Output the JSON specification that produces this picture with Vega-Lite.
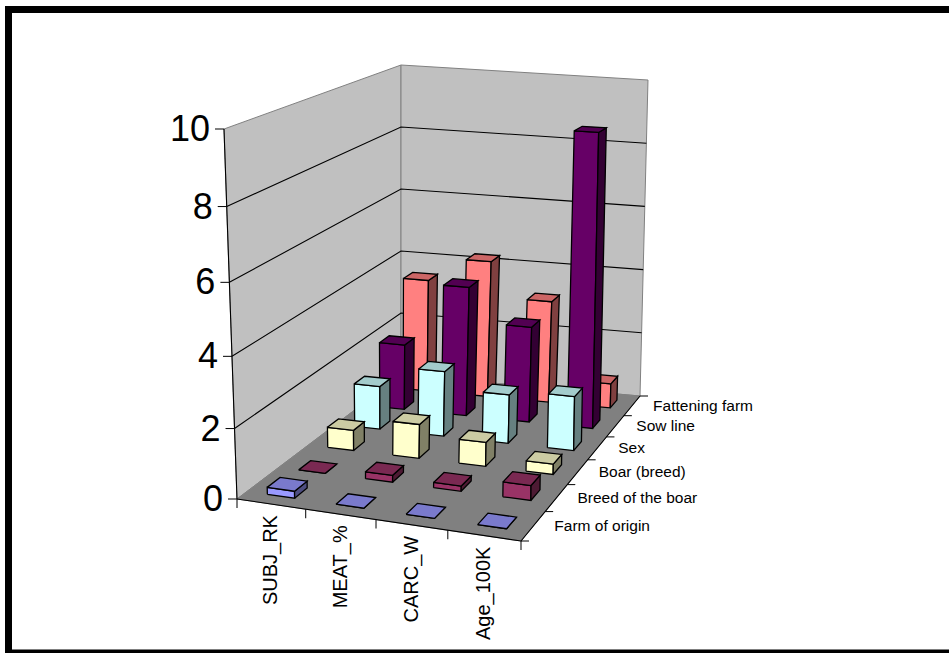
{
"$schema":"https://vega.github.io/schema/vega-lite/v6.json",
"width":940.5,"height":643.5,
"autosize":{"type":"none"},
"padding":{"left":8.5,"top":9.5,"right":0,"bottom":0},
"background":"white",
"config":{"view":{"stroke":null},"axis":{"translate":0},"text":{"font":"Liberation Sans"}},
"resolve":{"axis":{"x":"independent","y":"independent"},"scale":{"fill":"independent"}},
"datasets":{
"bars":[
{"category":"SUBJ_RK","series":"Fattening farm","value":3.5},{"category":"MEAT_%","series":"Fattening farm","value":4.25},{"category":"CARC_W","series":"Fattening farm","value":3.15},{"category":"Age_100K","series":"Fattening farm","value":0.75},
{"category":"SUBJ_RK","series":"Sow line","value":2.0},{"category":"MEAT_%","series":"Sow line","value":3.95},{"category":"CARC_W","series":"Sow line","value":2.9},{"category":"Age_100K","series":"Sow line","value":8.9},
{"category":"SUBJ_RK","series":"Sex","value":1.3},{"category":"MEAT_%","series":"Sex","value":1.95},{"category":"CARC_W","series":"Sex","value":1.45},{"category":"Age_100K","series":"Sex","value":1.6},
{"category":"SUBJ_RK","series":"Boar (breed)","value":0.6},{"category":"MEAT_%","series":"Boar (breed)","value":1.0},{"category":"CARC_W","series":"Boar (breed)","value":0.7},{"category":"Age_100K","series":"Boar (breed)","value":0.3},
{"category":"SUBJ_RK","series":"Breed of the boar","value":0},{"category":"MEAT_%","series":"Breed of the boar","value":0.2},{"category":"CARC_W","series":"Breed of the boar","value":0.15},{"category":"Age_100K","series":"Breed of the boar","value":0.42},
{"category":"SUBJ_RK","series":"Farm of origin","value":0.2},{"category":"MEAT_%","series":"Farm of origin","value":0},{"category":"CARC_W","series":"Farm of origin","value":0},{"category":"Age_100K","series":"Farm of origin","value":0}
],
"panels":[
{"panel":"left wall","k":0,"u":0,"v":0,"w":0},{"panel":"left wall","k":1,"u":0,"v":1,"w":0},{"panel":"left wall","k":2,"u":0,"v":1,"w":1},{"panel":"left wall","k":3,"u":0,"v":0,"w":1},{"panel":"left wall","k":4,"u":0,"v":0,"w":0},
{"panel":"back wall","k":0,"u":0,"v":1,"w":0},{"panel":"back wall","k":1,"u":1,"v":1,"w":0},{"panel":"back wall","k":2,"u":1,"v":1,"w":1},{"panel":"back wall","k":3,"u":0,"v":1,"w":1},{"panel":"back wall","k":4,"u":0,"v":1,"w":0},
{"panel":"floor","k":0,"u":0,"v":0,"w":0},{"panel":"floor","k":1,"u":1,"v":0,"w":0},{"panel":"floor","k":2,"u":1,"v":1,"w":0},{"panel":"floor","k":3,"u":0,"v":1,"w":0},{"panel":"floor","k":4,"u":0,"v":0,"w":0}
],
"rules":[
{"line":"g2","k":0,"u":0,"v":0,"w":0.2},{"line":"g2","k":1,"u":0,"v":1,"w":0.2},{"line":"g2","k":2,"u":1,"v":1,"w":0.2},
{"line":"g4","k":0,"u":0,"v":0,"w":0.4},{"line":"g4","k":1,"u":0,"v":1,"w":0.4},{"line":"g4","k":2,"u":1,"v":1,"w":0.4},
{"line":"g6","k":0,"u":0,"v":0,"w":0.6},{"line":"g6","k":1,"u":0,"v":1,"w":0.6},{"line":"g6","k":2,"u":1,"v":1,"w":0.6},
{"line":"g8","k":0,"u":0,"v":0,"w":0.8},{"line":"g8","k":1,"u":0,"v":1,"w":0.8},{"line":"g8","k":2,"u":1,"v":1,"w":0.8},
{"line":"value axis","k":0,"u":0,"v":0,"w":0},{"line":"value axis","k":1,"u":0,"v":0,"w":1},
{"line":"floor edge","k":0,"u":0,"v":0,"w":0},{"line":"floor edge","k":1,"u":1,"v":0,"w":0},{"line":"floor edge","k":2,"u":1,"v":1,"w":0}
],
"levels":[{"z":0},{"z":2},{"z":4},{"z":6},{"z":8},{"z":10}],
"categoryTicks":[{"t":0},{"t":1},{"t":2},{"t":3},{"t":4}],
"seriesTicks":[{"t":0},{"t":1},{"t":2},{"t":3},{"t":4},{"t":5},{"t":6}],
"categories":[{"category":"SUBJ_RK","i":0},{"category":"MEAT_%","i":1},{"category":"CARC_W","i":2},{"category":"Age_100K","i":3}],
"seriesNames":[{"series":"Farm of origin","j":0},{"series":"Breed of the boar","j":1},{"series":"Boar (breed)","j":2},{"series":"Sex","j":3},{"series":"Sow line","j":4},{"series":"Fattening farm","j":5}]
},
"layer":[
{"data":{"name":"panels"},
"transform":[
{"calculate":"datum.u+0.074*datum.u*(1-datum.u)","as":"uw"},{"calculate":"datum.w-0.06*(1-datum.v)*datum.w*(1-datum.w)","as":"wz"},
{"calculate":"(226.87*datum.uw+261.4*datum.v+237)/(1-0.10965*datum.uw+0.24288*datum.v)","as":"fx"},{"calculate":"(-17.32*datum.uw-32.92*datum.v+499)/(1-0.10965*datum.uw+0.24288*datum.v)","as":"fy"},
{"calculate":"(308.68*datum.uw+259.71*datum.v+224)/(1+0.01657*datum.uw+0.20626*datum.v)","as":"cx"},{"calculate":"(19.42*datum.uw-50.59*datum.v+129)/(1+0.01657*datum.uw+0.20626*datum.v)","as":"cy"},
{"calculate":"datum.fx+(datum.cx-datum.fx)*datum.wz","as":"px"},{"calculate":"datum.fy+(datum.cy-datum.fy)*datum.wz","as":"py"}],
"mark":{"type":"line","stroke":"#808080","strokeWidth":1,"interpolate":"linear"},
"encoding":{
"x":{"field":"px","type":"quantitative","scale":{"domain":[8.5,949],"zero":false,"nice":false},"axis":{"orient":"top","domain":true,"domainColor":"black","domainWidth":7,"domainCap":"square","ticks":false,"labels":false,"grid":false,"title":null}},
"y":{"field":"py","type":"quantitative","scale":{"domain":[9.5,653],"zero":false,"nice":false,"reverse":true},"axis":{"orient":"left","domain":true,"domainColor":"black","domainWidth":7,"domainCap":"square","ticks":false,"labels":false,"grid":false,"title":null}},
"order":{"field":"k"},"detail":{"field":"panel"},
"fill":{"field":"panel","type":"nominal","legend":null,"scale":{"domain":["left wall","back wall","floor"],"range":["#C0C0C0","#C0C0C0","#808080"]}}}},
{"data":{"name":"rules"},
"transform":[
{"calculate":"datum.u+0.074*datum.u*(1-datum.u)","as":"uw"},{"calculate":"datum.w-0.06*(1-datum.v)*datum.w*(1-datum.w)","as":"wz"},
{"calculate":"(226.87*datum.uw+261.4*datum.v+237)/(1-0.10965*datum.uw+0.24288*datum.v)","as":"fx"},{"calculate":"(-17.32*datum.uw-32.92*datum.v+499)/(1-0.10965*datum.uw+0.24288*datum.v)","as":"fy"},
{"calculate":"(308.68*datum.uw+259.71*datum.v+224)/(1+0.01657*datum.uw+0.20626*datum.v)","as":"cx"},{"calculate":"(19.42*datum.uw-50.59*datum.v+129)/(1+0.01657*datum.uw+0.20626*datum.v)","as":"cy"},
{"calculate":"datum.fx+(datum.cx-datum.fx)*datum.wz","as":"px"},{"calculate":"datum.fy+(datum.cy-datum.fy)*datum.wz","as":"py"}],
"mark":{"type":"line","color":"#000000","strokeWidth":1.1},
"encoding":{
"x":{"field":"px","type":"quantitative","axis":{"orient":"bottom","domain":true,"domainColor":"black","domainWidth":7,"domainCap":"square","ticks":false,"labels":false,"grid":false,"title":null}},
"y":{"field":"py","type":"quantitative","axis":null},
"order":{"field":"k"},"detail":{"field":"line"}}},
{"data":{"name":"bars"},
"transform":[
{"calculate":"indexof(['SUBJ_RK','MEAT_%','CARC_W','Age_100K'],datum.category)","as":"i"},
{"calculate":"indexof(['Farm of origin','Breed of the boar','Boar (breed)','Sex','Sow line','Fattening farm'],datum.series)","as":"j"},
{"calculate":"[{f:'front',k:0,a:0,b:0,c:0},{f:'front',k:1,a:1,b:0,c:0},{f:'front',k:2,a:1,b:0,c:1},{f:'front',k:3,a:0,b:0,c:1},{f:'front',k:4,a:0,b:0,c:0},{f:'side',k:0,a:1,b:0,c:0},{f:'side',k:1,a:1,b:1,c:0},{f:'side',k:2,a:1,b:1,c:1},{f:'side',k:3,a:1,b:0,c:1},{f:'side',k:4,a:1,b:0,c:0},{f:'top',k:0,a:0,b:0,c:1},{f:'top',k:1,a:1,b:0,c:1},{f:'top',k:2,a:1,b:1,c:1},{f:'top',k:3,a:0,b:1,c:1},{f:'top',k:4,a:0,b:0,c:1}]","as":"corner"},
{"flatten":["corner"]},
{"calculate":"datum.corner.k","as":"k"},
{"calculate":"datum.series+'|'+datum.corner.f","as":"face"},
{"calculate":"datum.category+'|'+datum.face","as":"faceId"},
{"calculate":"(datum.i+0.3+0.4*datum.corner.a)/4","as":"u"},
{"calculate":"(datum.j+0.3+0.4*datum.corner.b)/6","as":"v"},
{"calculate":"datum.value/10*datum.corner.c","as":"w"},
{"calculate":"datum.u+0.074*datum.u*(1-datum.u)","as":"uw"},{"calculate":"datum.w-0.06*(1-datum.v)*datum.w*(1-datum.w)","as":"wz"},
{"calculate":"(226.87*datum.uw+261.4*datum.v+237)/(1-0.10965*datum.uw+0.24288*datum.v)","as":"fx"},{"calculate":"(-17.32*datum.uw-32.92*datum.v+499)/(1-0.10965*datum.uw+0.24288*datum.v)","as":"fy"},
{"calculate":"(308.68*datum.uw+259.71*datum.v+224)/(1+0.01657*datum.uw+0.20626*datum.v)","as":"cx"},{"calculate":"(19.42*datum.uw-50.59*datum.v+129)/(1+0.01657*datum.uw+0.20626*datum.v)","as":"cy"},
{"calculate":"datum.fx+(datum.cx-datum.fx)*datum.wz","as":"px"},{"calculate":"datum.fy+(datum.cy-datum.fy)*datum.wz","as":"py"}],
"mark":{"type":"line","stroke":"#000000","strokeWidth":1.3,"strokeJoin":"miter"},
"encoding":{
"x":{"field":"px","type":"quantitative","axis":null},
"y":{"field":"py","type":"quantitative","axis":null},
"order":{"field":"k"},"detail":{"field":"faceId"},
"fill":{"field":"face","type":"nominal","legend":null,"scale":{
"domain":["Farm of origin|front","Farm of origin|top","Farm of origin|side","Breed of the boar|front","Breed of the boar|top","Breed of the boar|side","Boar (breed)|front","Boar (breed)|top","Boar (breed)|side","Sex|front","Sex|top","Sex|side","Sow line|front","Sow line|top","Sow line|side","Fattening farm|front","Fattening farm|top","Fattening farm|side"],
"range":["#9999FF","#7A7ACC","#4D4D80","#993366","#7A2952","#4D1A33","#FFFFCC","#CCCCA3","#808066","#CCFFFF","#A3CCCC","#668080","#660066","#520052","#330033","#FF8080","#CC6666","#804040"]}}}},
{"data":{"name":"levels"},
"transform":[{"calculate":"0","as":"u"},{"calculate":"0","as":"v"},{"calculate":"datum.z/10","as":"w"},
{"calculate":"datum.u+0.074*datum.u*(1-datum.u)","as":"uw"},{"calculate":"datum.w-0.06*(1-datum.v)*datum.w*(1-datum.w)","as":"wz"},
{"calculate":"(226.87*datum.uw+261.4*datum.v+237)/(1-0.10965*datum.uw+0.24288*datum.v)","as":"fx"},{"calculate":"(-17.32*datum.uw-32.92*datum.v+499)/(1-0.10965*datum.uw+0.24288*datum.v)","as":"fy"},
{"calculate":"(308.68*datum.uw+259.71*datum.v+224)/(1+0.01657*datum.uw+0.20626*datum.v)","as":"cx"},{"calculate":"(19.42*datum.uw-50.59*datum.v+129)/(1+0.01657*datum.uw+0.20626*datum.v)","as":"cy"},
{"calculate":"datum.fx+(datum.cx-datum.fx)*datum.wz","as":"px"},{"calculate":"datum.fy+(datum.cy-datum.fy)*datum.wz","as":"py"}],
"layer":[
{"mark":{"type":"tick","orient":"horizontal","size":9,"thickness":1,"color":"#000000","xOffset":-4.5,"opacity":1},
"encoding":{"x":{"field":"px","type":"quantitative","axis":null},"y":{"field":"py","type":"quantitative","axis":null}}},
{"mark":{"type":"text","align":"right","baseline":"middle","dx":-14,"dy":1,"fontSize":36,"font":"Liberation Sans","color":"#000000"},
"encoding":{"x":{"field":"px","type":"quantitative","axis":null},"y":{"field":"py","type":"quantitative","axis":null},"text":{"field":"z","type":"quantitative"}}}]},
{"data":{"name":"categoryTicks"},
"transform":[{"calculate":"datum.t/4","as":"u"},{"calculate":"0","as":"v"},{"calculate":"0","as":"w"},
{"calculate":"datum.u+0.074*datum.u*(1-datum.u)","as":"uw"},{"calculate":"datum.w-0.06*(1-datum.v)*datum.w*(1-datum.w)","as":"wz"},
{"calculate":"(226.87*datum.uw+261.4*datum.v+237)/(1-0.10965*datum.uw+0.24288*datum.v)","as":"fx"},{"calculate":"(-17.32*datum.uw-32.92*datum.v+499)/(1-0.10965*datum.uw+0.24288*datum.v)","as":"fy"},
{"calculate":"(308.68*datum.uw+259.71*datum.v+224)/(1+0.01657*datum.uw+0.20626*datum.v)","as":"cx"},{"calculate":"(19.42*datum.uw-50.59*datum.v+129)/(1+0.01657*datum.uw+0.20626*datum.v)","as":"cy"},
{"calculate":"datum.fx+(datum.cx-datum.fx)*datum.wz","as":"px"},{"calculate":"datum.fy+(datum.cy-datum.fy)*datum.wz","as":"py"}],
"mark":{"type":"tick","orient":"vertical","size":9,"thickness":1,"color":"#000000","yOffset":4.5,"opacity":1},
"encoding":{"x":{"field":"px","type":"quantitative","axis":null},"y":{"field":"py","type":"quantitative","axis":null}}},
{"data":{"name":"seriesTicks"},
"transform":[{"calculate":"1","as":"u"},{"calculate":"datum.t/6","as":"v"},{"calculate":"0","as":"w"},
{"calculate":"datum.u+0.074*datum.u*(1-datum.u)","as":"uw"},{"calculate":"datum.w-0.06*(1-datum.v)*datum.w*(1-datum.w)","as":"wz"},
{"calculate":"(226.87*datum.uw+261.4*datum.v+237)/(1-0.10965*datum.uw+0.24288*datum.v)","as":"fx"},{"calculate":"(-17.32*datum.uw-32.92*datum.v+499)/(1-0.10965*datum.uw+0.24288*datum.v)","as":"fy"},
{"calculate":"(308.68*datum.uw+259.71*datum.v+224)/(1+0.01657*datum.uw+0.20626*datum.v)","as":"cx"},{"calculate":"(19.42*datum.uw-50.59*datum.v+129)/(1+0.01657*datum.uw+0.20626*datum.v)","as":"cy"},
{"calculate":"datum.fx+(datum.cx-datum.fx)*datum.wz","as":"px"},{"calculate":"datum.fy+(datum.cy-datum.fy)*datum.wz","as":"py"}],
"mark":{"type":"tick","orient":"horizontal","size":8,"thickness":1,"color":"#000000","xOffset":4,"opacity":1},
"encoding":{"x":{"field":"px","type":"quantitative","axis":null},"y":{"field":"py","type":"quantitative","axis":null}}},
{"data":{"name":"categories"},
"transform":[{"calculate":"(datum.i+0.5)/4","as":"u"},{"calculate":"0","as":"v"},{"calculate":"0","as":"w"},
{"calculate":"datum.u+0.074*datum.u*(1-datum.u)","as":"uw"},{"calculate":"datum.w-0.06*(1-datum.v)*datum.w*(1-datum.w)","as":"wz"},
{"calculate":"(226.87*datum.uw+261.4*datum.v+237)/(1-0.10965*datum.uw+0.24288*datum.v)","as":"fx"},{"calculate":"(-17.32*datum.uw-32.92*datum.v+499)/(1-0.10965*datum.uw+0.24288*datum.v)","as":"fy"},
{"calculate":"(308.68*datum.uw+259.71*datum.v+224)/(1+0.01657*datum.uw+0.20626*datum.v)","as":"cx"},{"calculate":"(19.42*datum.uw-50.59*datum.v+129)/(1+0.01657*datum.uw+0.20626*datum.v)","as":"cy"},
{"calculate":"datum.fx+(datum.cx-datum.fx)*datum.wz","as":"px"},{"calculate":"datum.fy+(datum.cy-datum.fy)*datum.wz","as":"py"}],
"mark":{"type":"text","angle":270,"align":"right","baseline":"middle","dx":-11,"fontSize":20,"font":"Liberation Sans","color":"#000000"},
"encoding":{"x":{"field":"px","type":"quantitative","axis":null},"y":{"field":"py","type":"quantitative","axis":null},"text":{"field":"category"}}},
{"data":{"name":"seriesNames"},
"transform":[{"calculate":"1","as":"u"},{"calculate":"(datum.j+0.5)/6","as":"v"},{"calculate":"0","as":"w"},
{"calculate":"datum.u+0.074*datum.u*(1-datum.u)","as":"uw"},{"calculate":"datum.w-0.06*(1-datum.v)*datum.w*(1-datum.w)","as":"wz"},
{"calculate":"(226.87*datum.uw+261.4*datum.v+237)/(1-0.10965*datum.uw+0.24288*datum.v)","as":"fx"},{"calculate":"(-17.32*datum.uw-32.92*datum.v+499)/(1-0.10965*datum.uw+0.24288*datum.v)","as":"fy"},
{"calculate":"(308.68*datum.uw+259.71*datum.v+224)/(1+0.01657*datum.uw+0.20626*datum.v)","as":"cx"},{"calculate":"(19.42*datum.uw-50.59*datum.v+129)/(1+0.01657*datum.uw+0.20626*datum.v)","as":"cy"},
{"calculate":"datum.fx+(datum.cx-datum.fx)*datum.wz","as":"px"},{"calculate":"datum.fy+(datum.cy-datum.fy)*datum.wz","as":"py"}],
"mark":{"type":"text","align":"left","baseline":"middle","dx":21,"fontSize":15.5,"font":"Liberation Sans","color":"#000000"},
"encoding":{"x":{"field":"px","type":"quantitative","axis":null},"y":{"field":"py","type":"quantitative","axis":null},"text":{"field":"series"}}}
]
}
